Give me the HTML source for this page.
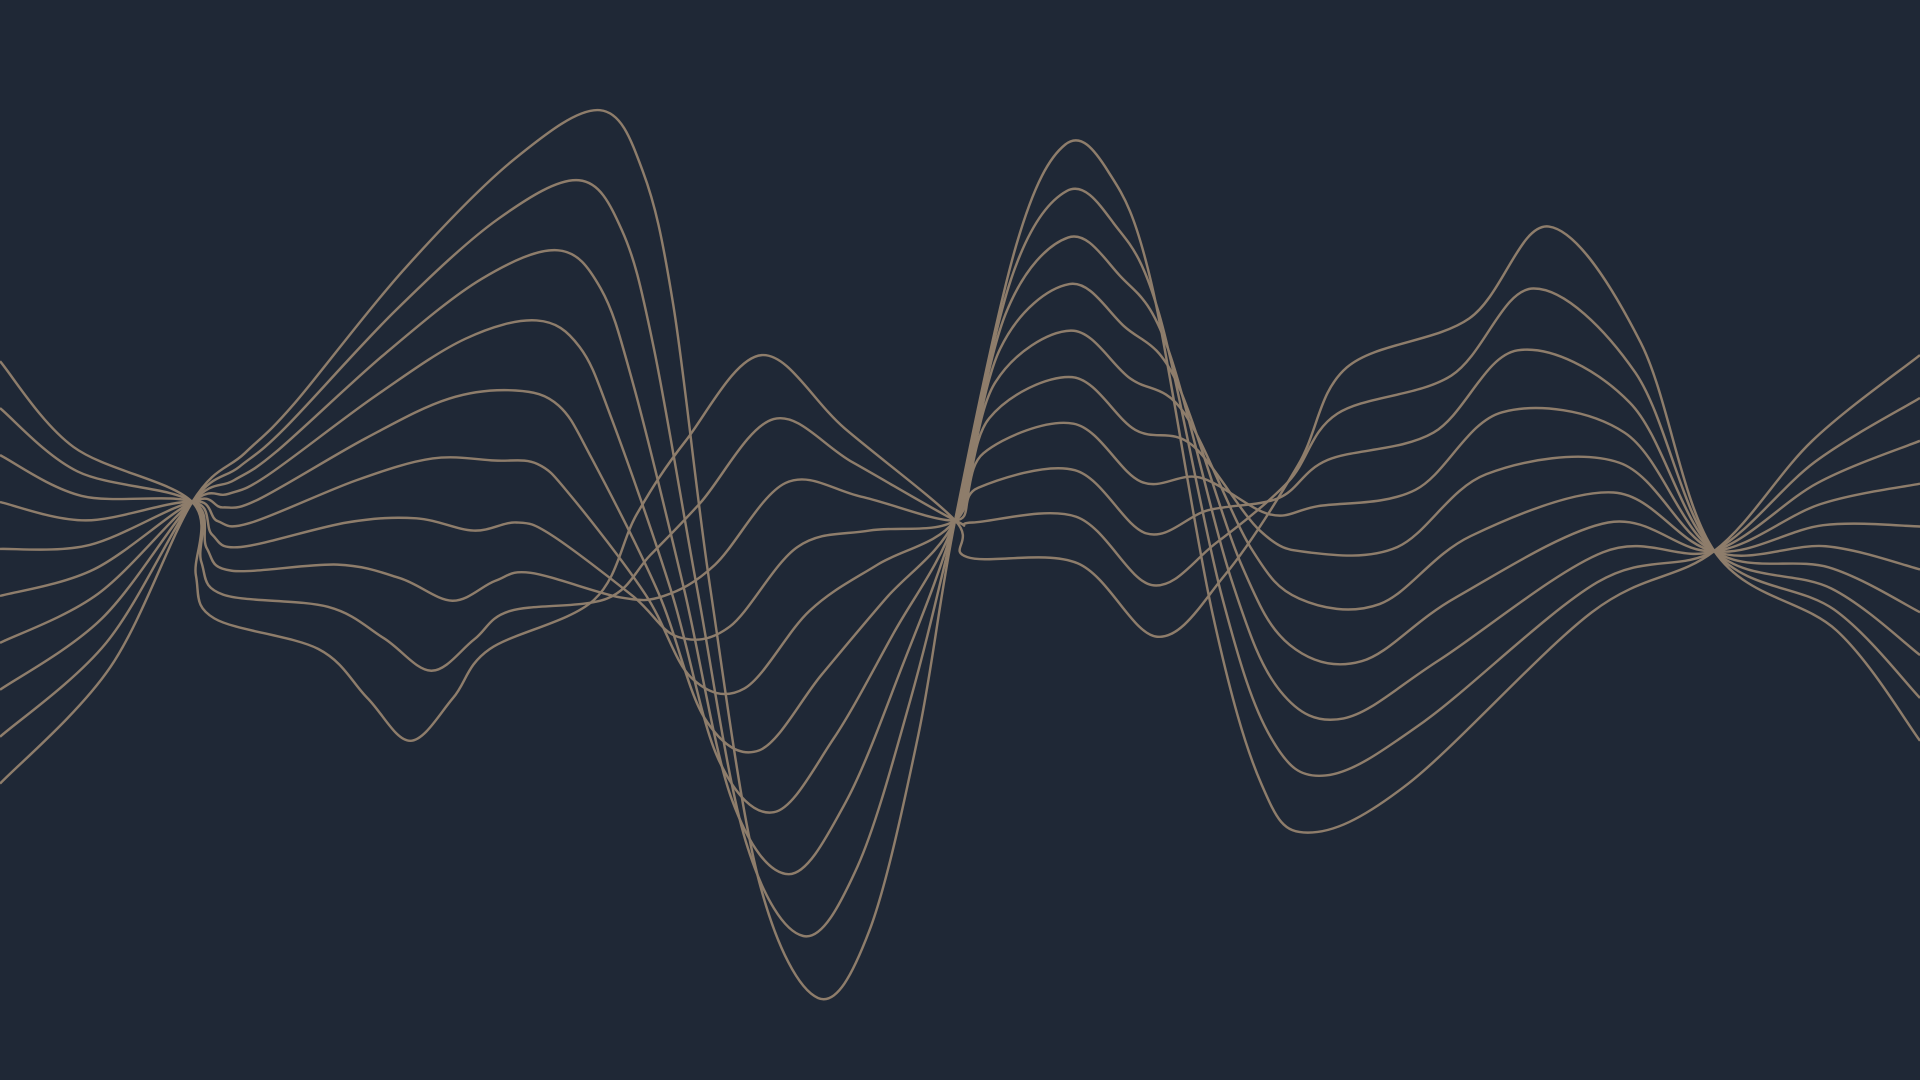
<!DOCTYPE html>
<html><head><meta charset="utf-8"><style>
html,body{margin:0;padding:0;background:#1f2836;width:1920px;height:1080px;overflow:hidden}
svg{display:block}
</style></head><body>
<svg id="chart" width="1920" height="1080" viewBox="0 0 1568 882" preserveAspectRatio="none">
<rect x="0" y="0" width="1568" height="882" fill="#1f2836"/>
<g id="lines"></g>
</svg>
<script>
// Outer curve A (highest peaks) and outer curve B (other extreme), as [x,y] control points
const curveAx = [0,90,157, 200,240,330,420,490,525,550,580,620,668,710,750,780, 830,870,905,940,990,1030,1068,1150,1300,1400, 1480,1568];
const curveAy = [640,545,410, 370,330,220,130,90,140,250,480,720,815,760,600,425, 200,118,140,230,500,640,680,640,500,450, 360,290];
const curveBx = [0,60,157, 160,175,260,300,335,370,400,485,520,560,622,690,780, 790,880,945,1000,1060,1100,1200,1265,1340,1400, 1500,1568];
const curveBy = [295,365,410, 470,505,530,570,605,570,530,490,420,360,290,350,425, 455,460,520,470,380,300,260,185,280,450, 515,605];
const lineCount = 10;

const g = document.getElementById('lines');
function catmull(pts){
  let d = 'M' + pts[0][0].toFixed(1) + ',' + pts[0][1].toFixed(1);
  for (let i = 0; i < pts.length - 1; i++){
    const p0 = pts[Math.max(0,i-1)], p1 = pts[i], p2 = pts[i+1], p3 = pts[Math.min(pts.length-1,i+2)];
    const c1x = p1[0] + (p2[0]-p0[0])/6, c1y = p1[1] + (p2[1]-p0[1])/6;
    const c2x = p2[0] - (p3[0]-p1[0])/6, c2y = p2[1] - (p3[1]-p1[1])/6;
    d += ' C' + c1x.toFixed(1) + ',' + c1y.toFixed(1) + ' ' + c2x.toFixed(1) + ',' + c2y.toFixed(1) + ' ' + p2[0].toFixed(1) + ',' + p2[1].toFixed(1);
  }
  return d;
}
for (let k = 0; k < lineCount; k++){
  const t = k / (lineCount - 1);
  const pts = curveAx.map((x, i) => [x + (curveBx[i]-x)*t, curveAy[i] + (curveBy[i]-curveAy[i])*t]);
  const p = document.createElementNS('http://www.w3.org/2000/svg','path');
  p.setAttribute('d', catmull(pts));
  p.setAttribute('fill','none');
  p.setAttribute('stroke','#8e7d6b');
  p.setAttribute('stroke-width','2');
  
  
  g.appendChild(p);
}
</script>
</body></html>
